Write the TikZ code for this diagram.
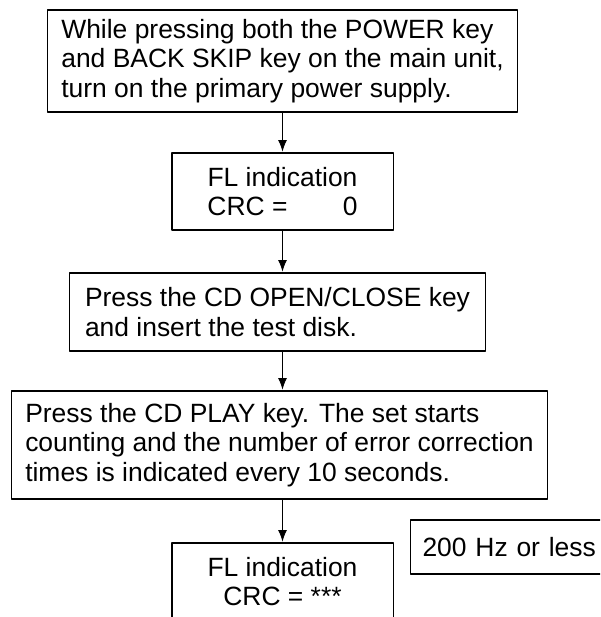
\documentclass[tikz,border=0pt]{standalone}
\usepackage{fontspec}
\setmainfont{Liberation Sans}
\usetikzlibrary{arrows.meta, calc}

\begin{document}
\begin{tikzpicture}[x=0.025cm, y=-0.025cm, >=Latex, line cap=round, line join=round,
	font=\fontsize{18.8}{20.8}\selectfont,
	stepbox/.style={draw, line width=0.75pt, inner sep=0pt, align=left},
	flow/.style={->, line width=0.7pt, shorten >=0.5pt, >={Latex[length=2.9mm, width=2.2mm]}}]
% page frame (the last box runs off the page)
\useasboundingbox (0,0) rectangle (600,617);
\clip (0,0) rectangle (600,617);

%========================
% steps
%========================
\node[stepbox, minimum width=11.725cm, minimum height=2.55cm] (power) at (282.5,61)
	{While pressing both the POWER key\\and BACK SKIP key on the main unit,\\turn on the primary power supply.};
\node[stepbox, align=center, minimum width=5.525cm, minimum height=1.925cm] (flzero) at (282.5,191.5)
	{FL indication\\\makebox[3.75cm]{CRC =\hfill0}};
\node[stepbox, minimum width=10.375cm, minimum height=1.95cm] (disk) at (277.5,312)
	{Press the CD OPEN/CLOSE key\\and insert the test disk.};
\node[stepbox, minimum width=13.375cm, minimum height=2.7cm] (play) at (279.5,445)
	{Press the CD PLAY key. The set starts\\counting and the number of error correction\\times is indicated every 10 seconds.};
\node[stepbox, align=center, minimum width=5.525cm, minimum height=1.925cm] (flcount) at (282.5,581.5)
	{FL indication\\CRC = ***};

% side note
\node[stepbox, anchor=west, inner xsep=0.3cm, text width=5.15cm, minimum height=1.35cm] (limit) at (410,547)
	{200 Hz or less};

%========================
% arrows
%========================
\draw[flow] (power.south) -- (flzero.north);
\draw[flow] (flzero.south) -- (flzero.south |- disk.north);
\draw[flow] (flzero.south |- disk.south) -- (flzero.south |- play.north);
\draw[flow] (flzero.south |- play.south) -- (flcount.north);
\end{tikzpicture}
\end{document}
